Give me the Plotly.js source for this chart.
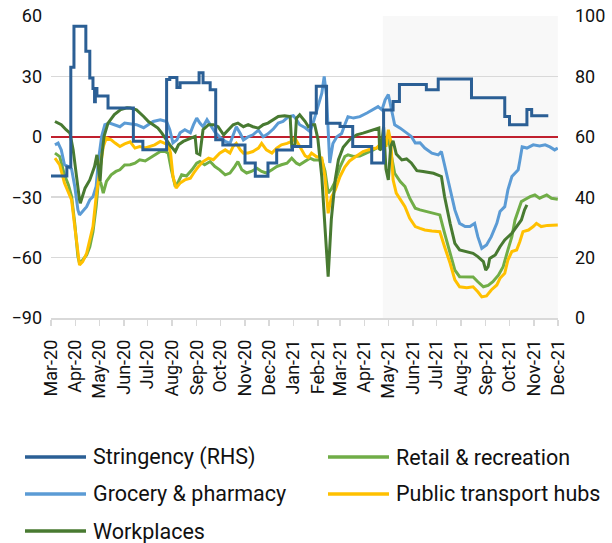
<!DOCTYPE html>
<html>
<head>
<meta charset="utf-8">
<script src="https://cdn.plot.ly/plotly-3.0.1.min.js"></script>
<style>html,body{margin:0;padding:0;background:#fff;}#chart{width:612px;height:543px;}</style>
</head>
<body>
<div id="chart"></div>
<script>
// x values are days since 1 March 2020
const seriesNames = ['Stringency (RHS)', 'Retail & recreation', 'Grocery & pharmacy', 'Public transport hubs', 'Workplaces'];
const seriesColors = ['#2B5F95', '#70AD47', '#5B9BD5', '#FFC000', '#487A31'];

const stringencyDays = [0,20,25,29,44,49,53,55,56,58,72,104,116,146,150,159,163,187,192,201,208,217,245,258,274,285,305,328,335,348,365,381,405,420,432,440,474,489,531,573,579,601,607,628];
const stringencyValues = [47,50,83,96.6,88.3,79.5,76,71.6,76,73.5,69.5,58.5,55.7,79,79.6,76.3,77.9,81.2,77.9,75.6,59,57.3,51.3,46.9,51.3,55.6,56.8,67.9,76.7,64.5,63.4,56.8,51.3,68.9,71.7,77.3,75.6,79.1,72.9,66.7,64,69,67,67];

const retailDays = [5,11,17,22,26,30,34,36,40,45,49,53,57,60,63,66,70,76,82,87,93,100,106,112,119,125,131,138,144,148,152,157,161,165,171,178,184,188,194,201,207,213,220,226,232,236,241,247,253,260,266,272,279,285,291,298,304,310,314,321,327,332,337,342,346,350,354,359,365,371,375,382,390,399,407,415,420,423,426,430,434,441,447,453,460,466,472,481,491,497,504,510,516,525,533,539,546,552,558,565,571,577,582,586,590,594,598,605,611,617,626,632,640];
const retailValues = [-8.1,-9.8,-18.9,-23.9,-29.7,-43,-59.5,-62.8,-61.2,-58.7,-54.6,-47.1,-34.7,-21.4,-23,-28,-22.2,-18.9,-17.2,-16.4,-14,-13.9,-13.1,-11.4,-12,-10.6,-9,-7.3,-7.3,-8.1,-16.4,-24.7,-22.2,-18.9,-19.5,-16.4,-13.1,-12.3,-13.9,-12.3,-14.8,-16.4,-18.9,-18,-14.8,-12.3,-16.4,-18,-17.2,-15.6,-17.2,-18,-16.4,-14.8,-13.9,-13.1,-10.6,-13.1,-13.9,-12.3,-10.6,-11.5,-11.4,-11.5,-17,-28,-26,-22.2,-15,-9.8,-9,-9.8,-9.5,-8.1,-6.5,-4.8,-1.5,-4,-0.5,-9.8,-18.1,-22.2,-24.7,-30.5,-35.5,-36.3,-36.9,-37.8,-38.8,-47.9,-57.9,-66.2,-69.5,-69.6,-69.6,-72,-74.5,-73.8,-72,-68.7,-64.5,-56.2,-49.6,-41.3,-36.3,-32.2,-31.3,-29.7,-28.9,-30.5,-28.9,-30.5,-31];

const groceryDays = [5,9,13,17,22,26,30,34,36,40,45,49,53,57,60,64,68,74,81,87,93,100,108,117,123,129,138,146,150,154,159,163,169,176,180,184,188,192,197,203,207,213,220,226,230,234,239,243,249,255,262,268,274,281,287,293,300,306,310,314,321,327,331,337,342,345,348,352,356,361,367,371,375,382,390,399,407,413,418,422,426,430,434,441,449,455,460,466,472,481,489,493,497,504,510,516,523,529,535,539,544,550,556,563,567,573,577,582,586,590,592,595,601,609,617,624,630,636,640];
const groceryValues = [-4,-3.1,-6.5,-13.9,-14.8,-16,-24.7,-36.3,-38.8,-37.1,-34.7,-31.3,-29.7,-24.7,-11.4,0.2,6,6.8,6,5,6.8,6.5,6,4.5,6,7.6,8.5,7.6,3.5,-3,-1.5,2,3.5,2,6,9.3,6.8,5,8.5,5,2.3,0,-2.3,-3.3,1,5,1.6,-1.6,0,1,3.3,0,1.5,4,6.8,7.6,10,10.5,8.5,6,4.5,2.6,6.8,15,21.7,30,20,-13,-3.3,0,1.6,6,10,9.3,10,11.8,13.4,15,13.4,18.4,21,13.4,6,4.3,1.8,0.2,-3.1,-3,-5.6,-8.1,-9,-7.3,-14,-26.4,-36.3,-43,-44.6,-44.6,-43,-49.6,-55.4,-53.7,-49.6,-43,-37.1,-34.7,-26.4,-19.7,-18,-16.4,-12,-5,-5.6,-4,-4.5,-4,-5,-6.5,-5.6];

const transportDays = [5,11,17,22,26,30,34,36,40,45,49,53,57,62,66,70,76,81,87,93,100,106,112,119,125,131,138,144,148,151,154,158,163,169,176,180,186,192,199,205,211,213,220,226,230,234,239,243,249,255,262,266,272,279,285,291,298,304,308,312,317,321,325,329,335,342,346,350,354,359,365,371,377,386,394,403,411,417,420,423,426,429,432,436,441,447,453,460,466,472,481,491,497,504,510,516,525,533,539,544,550,556,563,567,573,577,582,588,592,596,603,609,613,619,627,640];
const transportValues = [-10.6,-13.9,-23,-28,-31.3,-44.6,-59.5,-63.7,-62,-57.9,-51.2,-44.6,-29.7,-14.8,-4.8,-0.6,-1.5,-3.1,-4.8,-3.5,-2.5,-5.6,-4.8,-5.5,-4.8,-4,-2.3,-3.1,-4,-8.1,-19.7,-25.5,-23,-21.4,-20.6,-18.1,-14.8,-12.3,-10.6,-11.4,-9,-8.1,-6.5,-8.1,-4.8,-3.3,-6.5,-8.1,-8,-7.3,-5.6,-3.3,-6.5,-8.1,-5.6,-4,-3.3,-2.3,-0.6,-3.3,-6.5,-9.5,-10.3,-8.1,-9.8,-10.5,-20,-38,-30,-26.4,-19.7,-15,-12,-9.5,-7.3,-6.2,-5.6,-3.3,0,-5,3.5,-2,-21.4,-28,-31.3,-34.7,-40.5,-44.6,-45.5,-46.3,-46.8,-47.1,-54.6,-62.8,-71.1,-74.5,-75,-74.5,-77,-79.5,-79,-76.1,-73.6,-70.3,-67.8,-61.2,-57,-56.2,-52.1,-47.1,-46.3,-44.6,-43,-44.6,-44,-43.8];

const workplacesDays = [5,13,19,24,28,32,36,37,43,49,55,58,62,64,67,72,80,88,96,100,108,117,123,129,135,140,144,150,157,161,167,176,182,184,188,192,199,205,211,218,224,230,236,243,249,255,262,268,274,281,287,295,302,304,308,310,314,321,325,329,333,337,342,346,350,354,359,363,369,377,386,394,403,411,414,415,417,420,423,426,429,432,436,443,449,455,462,470,483,493,497,504,510,516,525,533,539,546,549,552,554,561,567,573,582,588,594,598,601];
const workplacesValues = [7.6,6,3.5,1.8,-6.5,-19.7,-31.3,-33,-25.5,-21.4,-14.8,-9,-22,-10,0.2,6.8,11,13.5,14.4,14.3,13.4,10.1,7.6,6,4.3,1.8,-0.6,-4,-7.3,-4,-2.3,-0.6,0.2,-8.1,-8.9,3.5,6,6,5,1,3.5,6,6.8,5,6,5,4.3,6,6.8,8.5,10.1,10.5,10.1,-4.8,-4,9.3,10.9,7.6,5,6,6,-1,-20,-45,-69.5,-41,-21,-11.4,-5.2,-1.5,1,1.8,2.8,4,4.3,-6.5,-6,5,-16,-21.4,-4.8,-2,-8.5,-11.5,-11,-13,-16.8,-17.2,-18.1,-19.7,-29.7,-43,-52.9,-56.2,-57,-57.9,-59.5,-62,-66.2,-64.5,-60.4,-58.7,-54.6,-51.2,-47.9,-44.6,-41.3,-36.3,-33.8];

const shadedStart = '2021-04-24';
const axisStart = '2020-03-01';
const axisEnd = '2021-12-01';
const leftTicks = [-90, -60, -30, 0, 30, 60];
const rightTicks = [0, 20, 40, 60, 80, 100];

const BASE = Date.UTC(2020, 2, 1);
const toDate = d => new Date(BASE + d * 86400000).toISOString().slice(0, 10);

const lw = 3;
const traces = [
  {x: stringencyDays.map(toDate), y: stringencyValues, yaxis: 'y2', line: {color: seriesColors[0], width: lw, shape: 'hv'}},
  {x: retailDays.map(toDate), y: retailValues, line: {color: seriesColors[1], width: lw}},
  {x: groceryDays.map(toDate), y: groceryValues, line: {color: seriesColors[2], width: lw}},
  {x: transportDays.map(toDate), y: transportValues, line: {color: seriesColors[3], width: lw}},
  {x: workplacesDays.map(toDate), y: workplacesValues, line: {color: seriesColors[4], width: lw}}
].map((t, i) => Object.assign(t, {type: 'scatter', mode: 'lines', name: seriesNames[i], hoverinfo: 'skip'}));

// plot area in pixels
const P = {l: 51, r: 558, t: 16, b: 318};
const px2x = px => (px - P.l) / (P.r - P.l);
const px2y = py => (P.b - py) / (P.b - P.t);

// custom legend: order and placement (two columns)
const legendOrder = [0, 1, 2, 3, 4];
const legendCols = [{sw0: 25, sw1: 86, tx: 91}, {sw0: 328, sw1: 389, tx: 394}];
const legendRows = [457, 494, 531];

const shapes = [
  {type: 'rect', xref: 'x', yref: 'paper', x0: shadedStart, x1: axisEnd, y0: 0, y1: 1,
   fillcolor: '#f8f8f8', line: {width: 0}, layer: 'below'}
];
const annotations = [];
legendOrder.forEach((si, k) => {
  const col = legendCols[k % 2], row = legendRows[Math.floor(k / 2)];
  shapes.push({type: 'line', xref: 'paper', yref: 'paper', x0: px2x(col.sw0), x1: px2x(col.sw1),
    y0: px2y(row), y1: px2y(row), line: {color: seriesColors[si], width: 3.5}});
  annotations.push({xref: 'paper', yref: 'paper', x: px2x(col.tx), y: px2y(row), xanchor: 'left', yanchor: 'middle',
    showarrow: false, text: seriesNames[si], font: {size: 21.5, color: '#111'}});
});

const layout = {
  width: 612, height: 543,
  margin: {l: P.l, r: 612 - P.r, t: P.t, b: 543 - P.b, pad: 0},
  paper_bgcolor: '#fff', plot_bgcolor: 'rgba(0,0,0,0)',
  showlegend: false,
  font: {family: 'Roboto, "Noto Sans", sans-serif', size: 18, color: '#111'},
  xaxis: {type: 'date', range: [axisStart, axisEnd + ' 06:00'], tick0: axisStart, dtick: 'M1', tickformat: '%b-%y',
    tickangle: -90, ticks: 'outside', ticklen: 6, tickcolor: '#d9d9d9', tickwidth: 1.5,
    showgrid: false, zeroline: false, showline: true, linecolor: '#d9d9d9', linewidth: 1.5,
    tickfont: {size: 18}, ticklabelstandoff: 7, fixedrange: true},
  yaxis: {range: [-90, 60], tickvals: leftTicks, showgrid: true, gridcolor: '#d9d9d9', gridwidth: 1.5,
    zeroline: true, zerolinecolor: '#C0202E', zerolinewidth: 1.5, showline: false, ticks: '',
    tickfont: {size: 18}, ticklabelstandoff: 8, fixedrange: true},
  yaxis2: {range: [0, 100], tickvals: rightTicks, overlaying: 'y', side: 'right', showgrid: false, zeroline: false,
    showline: false, ticks: '', tickfont: {size: 18}, ticklabelstandoff: 16, fixedrange: true},
  shapes: shapes,
  annotations: annotations
};

Plotly.newPlot('chart', traces, layout, {staticPlot: true, displayModeBar: false});
</script>
</body>
</html>
